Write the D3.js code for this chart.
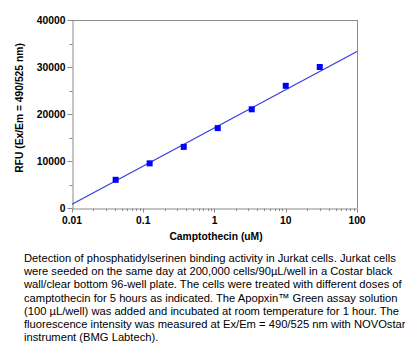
<!DOCTYPE html>
<html><head><meta charset="utf-8">
<script src="https://cdn.jsdelivr.net/npm/d3@7"></script>
<style>
body{margin:0;background:#fff;}
svg{display:block;font-family:Arial,"Liberation Sans",sans-serif;}
</style></head><body>
<svg id="c" width="405" height="355"></svg>
<script>
const doses = [0.041, 0.123, 0.37, 1.11, 3.33, 10, 30];
const rfu = [6000, 9500, 13000, 17000, 21000, 26000, 30000];
const fitX = [0.01, 100];
const fitY = [800, 33300];
const yTicks = [0, 10000, 20000, 30000, 40000];
const xTicks = [0.01, 0.1, 1, 10, 100];
const xTickLabels = ["0.01", "0.1", "1", "10", "100"];
const xLabel = "Camptothecin (uM)";
const yLabel = "RFU (Ex/Em = 490/525 nm)";
const caption = [
 "Detection of phosphatidylserinen binding activity in Jurkat cells. Jurkat cells",
 "were seeded on the same day at 200,000 cells/90\u00b5L/well in a Costar black",
 "wall/clear bottom 96-well plate. The cells were treated with different doses of",
 "camptothecin for 5 hours as indicated. The Apopxin\u2122 Green assay solution",
 "(100 \u00b5L/well) was added and incubated at room temperature for 1 hour. The",
 "fluorescence intensity was measured at Ex/Em = 490/525 nm with NOVOstar",
 "instrument (BMG Labtech)."
];

const svg = d3.select("#c");
const L=72, R=357, T=20, B=208;
const x = d3.scaleLog().domain([0.01,100]).range([L,R]);
const y = d3.scaleLinear().domain([0,40000]).range([B,T]);
const gray = "#8a8a8a";

// frame top/right
svg.append("line").attr("x1",L).attr("x2",R).attr("y1",T+0.5).attr("y2",T+0.5).attr("stroke",gray);
svg.append("line").attr("x1",R+0.5).attr("x2",R+0.5).attr("y1",T).attr("y2",B).attr("stroke",gray);

// y axis
const yMinor = d3.range(0,40001,5000);
const ya = svg.append("g").attr("transform",`translate(${L+0.5},0)`)
  .call(d3.axisLeft(y).tickValues(yMinor).tickSize(0).tickFormat(""));
ya.select(".domain").attr("stroke",gray);
yMinor.forEach(v=>{
  const major = yTicks.includes(v);
  ya.append("line").attr("x1",major?-5:-3).attr("x2",0).attr("y1",Math.round(y(v))+0.5).attr("y2",Math.round(y(v))+0.5).attr("stroke",gray);
});
yTicks.forEach(v=>{
  ya.append("text").attr("x",-7).attr("y",y(v)+3.8).attr("text-anchor","end")
    .attr("font-size","10.3px").attr("font-weight","bold").attr("fill","#000").text(v);
});

// x axis
const xMinor = [];
for (let e=-2;e<2;e++) for (let k=1;k<10;k++) xMinor.push(k*Math.pow(10,e));
xMinor.push(100);
const xa = svg.append("g").attr("transform",`translate(0,${B+0.5})`)
  .call(d3.axisBottom(x).tickValues(xMinor).tickSize(0).tickFormat(""));
xa.select(".domain").attr("stroke",gray);
xMinor.forEach(v=>{
  const major = xTicks.some(t=>Math.abs(t-v)/t<1e-9);
  const px = Math.round(x(v))+0.5;
  xa.append("line").attr("x1",px).attr("x2",px).attr("y1",0).attr("y2",major?4:2.5).attr("stroke",gray);
});
xTicks.forEach((v,i)=>{
  xa.append("text").attr("x",x(v)).attr("y",15).attr("text-anchor","middle")
    .attr("font-size","10.3px").attr("font-weight","bold").attr("fill","#000").text(xTickLabels[i]);
});

// labels
svg.append("text").attr("x",216).attr("y",240).attr("text-anchor","middle")
  .attr("font-size","10.3px").attr("font-weight","bold").text(xLabel);
svg.append("text").attr("transform",`translate(23,108) rotate(-90)`).attr("text-anchor","middle")
  .attr("font-size","10.3px").attr("font-weight","bold").text(yLabel);

// fit line
svg.append("path").datum(fitX.map((d,i)=>[d,fitY[i]]))
  .attr("d",d3.line().x(d=>x(d[0])).y(d=>y(d[1])))
  .attr("stroke","#3a3ae0").attr("stroke-width",1.2).attr("fill","none");

// points
svg.selectAll("rect.pt").data(doses).enter().append("rect").attr("class","pt")
  .attr("x",(d)=>x(d)-3).attr("y",(d,i)=>y(rfu[i])-3).attr("width",6).attr("height",6)
  .attr("fill","#0000ff");

// caption
const cap = svg.append("text").attr("font-size","11.2px").attr("fill","#000");
caption.forEach((s,i)=>{
  cap.append("tspan").attr("x",24).attr("y",262+i*13.2).text(s);
});
</script>
</body></html>
